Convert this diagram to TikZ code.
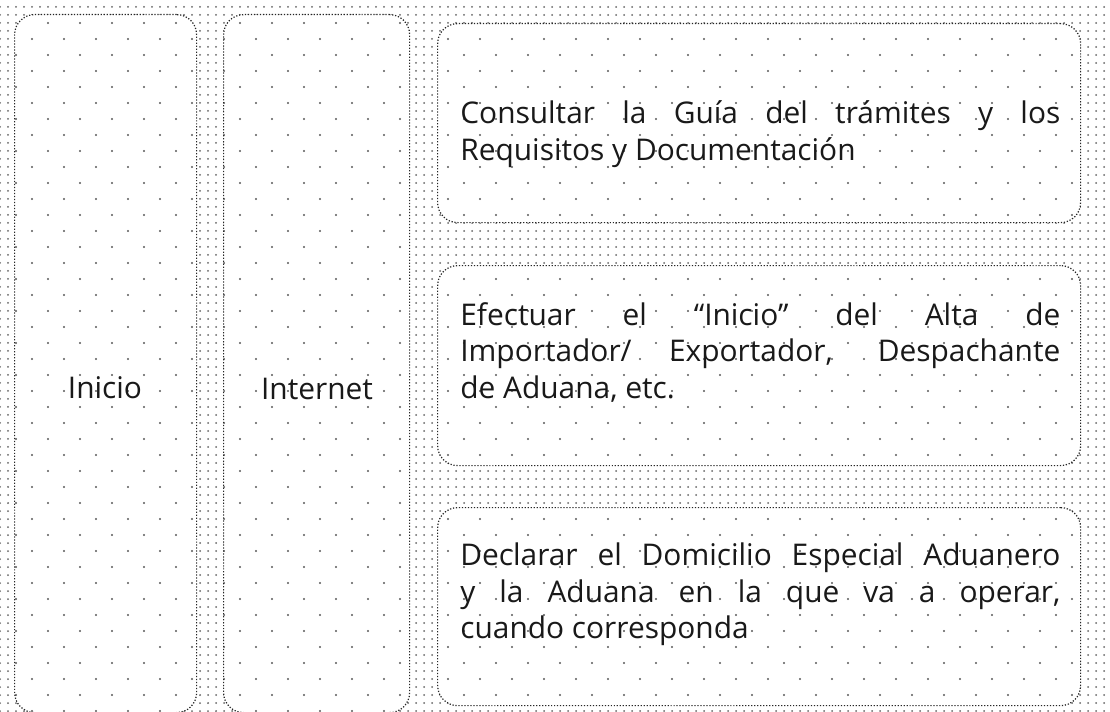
\documentclass[tikz,border=0pt]{standalone}
\usepackage{fontspec}
\setmainfont{Open Sans}
\usetikzlibrary{patterns.meta}

\tikzset{
  bgdots/.style={pattern={Dots[distance=0.16cm,radius=0.02cm]},pattern color=black!60},
  boxdots/.style={preaction={fill=white},
    preaction={pattern={Dots[distance=0.64cm,radius=0.022cm]},pattern color=black!65},
    pattern={Dots[distance=0.64cm,xshift=0.32cm,yshift=0.32cm,radius=0.022cm]},pattern color=black!65},
  lanebox/.style={boxdots,draw=black!85,densely dotted,line width=0.7pt,rounded corners=0.4cm,anchor=north west,inner sep=0pt},
  lanetext/.style={font=\fontsize{17}{20.8}\selectfont,text=black!90},
  tasktext/.style={lanetext,anchor=north west,text width=12.0cm,align=justify,inner sep=0pt},
}

\begin{document}
\begin{tikzpicture}
\clip (0,0) rectangle (22.2,14.22);
\fill[white] (0,0) rectangle (22.2,14.22);
\path[bgdots] (0,0) rectangle (22.2,14.22);

% columnas
\node[lanebox,minimum width=3.64cm,minimum height=13.96cm] (inicio) at (0.28,13.94) {};
\node[lanebox,minimum width=3.72cm,minimum height=13.96cm] (internet) at (4.46,13.94) {};

% pasos
\node[lanebox,minimum width=12.86cm,minimum height=3.98cm] (consultar) at (8.74,13.76) {};
\node[lanebox,minimum width=12.86cm,minimum height=4.00cm] (efectuar) at (8.74,8.92) {};
\node[lanebox,minimum width=12.86cm,minimum height=3.96cm] (declarar) at (8.74,4.08) {};

\node[lanetext] (inicio label) at (2.10,6.46) {Inicio};
\node[lanetext] (internet label) at (6.34,6.44) {Internet};

\node[tasktext] (consultar text) at (9.20,12.21)
  {Consultar la Guía del trámites y los\linebreak Requisitos y Documentación};
\node[tasktext] (efectuar text) at (9.20,8.18)
  {Efectuar el ``Inicio'' del Alta de\linebreak Importador/ Exportador, Despachante\linebreak de Aduana, etc.};
\node[tasktext] (declarar text) at (9.20,3.37)
  {Declarar el Domicilio Especial Aduanero\linebreak y la Aduana en la que va a operar,\linebreak cuando corresponda};
\end{tikzpicture}
\end{document}
